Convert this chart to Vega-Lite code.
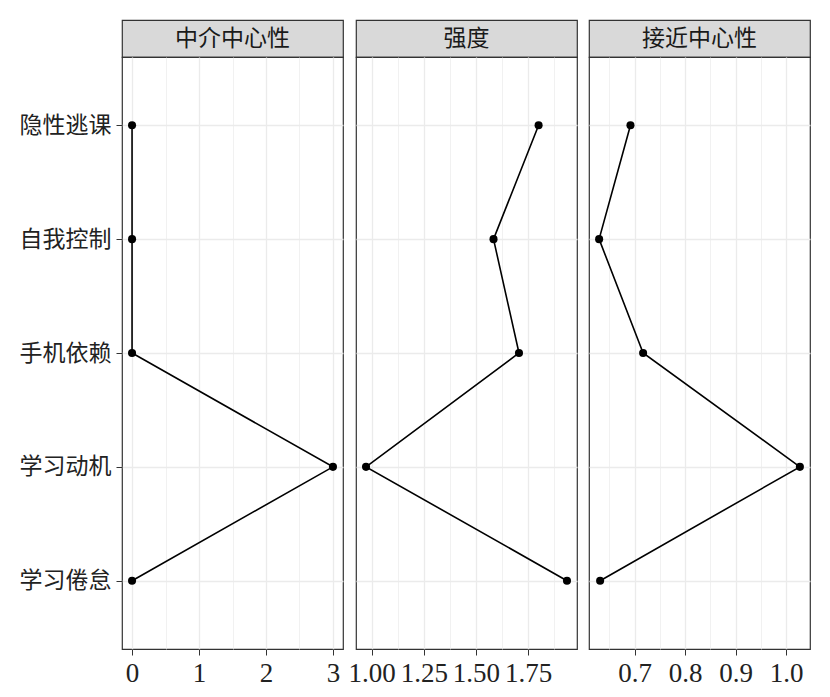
{
  "$schema": "https://vega.github.io/schema/vega-lite/v6.json",
  "background": "white",
  "padding": {"left": 18, "top": 19, "right": 5, "bottom": 5},
  "datasets": {
    "d": [
      {"metric": "中介中心性", "node": "隐性逃课", "value": 0, "idx": 1},
      {"metric": "中介中心性", "node": "自我控制", "value": 0, "idx": 2},
      {"metric": "中介中心性", "node": "手机依赖", "value": 0, "idx": 3},
      {"metric": "中介中心性", "node": "学习动机", "value": 3, "idx": 4},
      {"metric": "中介中心性", "node": "学习倦怠", "value": 0, "idx": 5},
      {"metric": "强度", "node": "隐性逃课", "value": 1.800, "idx": 1},
      {"metric": "强度", "node": "自我控制", "value": 1.584, "idx": 2},
      {"metric": "强度", "node": "手机依赖", "value": 1.706, "idx": 3},
      {"metric": "强度", "node": "学习动机", "value": 0.973, "idx": 4},
      {"metric": "强度", "node": "学习倦怠", "value": 1.936, "idx": 5},
      {"metric": "接近中心性", "node": "隐性逃课", "value": 0.692, "idx": 1},
      {"metric": "接近中心性", "node": "自我控制", "value": 0.630, "idx": 2},
      {"metric": "接近中心性", "node": "手机依赖", "value": 0.717, "idx": 3},
      {"metric": "接近中心性", "node": "学习动机", "value": 1.027, "idx": 4},
      {"metric": "接近中心性", "node": "学习倦怠", "value": 0.632, "idx": 5}
    ]
  },
  "config": {
    "view": {"stroke": "#333333", "strokeWidth": 1.2},
    "axis": {"domain": false, "gridColor": "#ebebeb", "tickColor": "#333333", "labelColor": "#222222", "title": null},
    "axisX": {"labelFont": "Liberation Serif", "labelFontSize": 27, "tickSize": 6, "labelPadding": 5, "labelFlush": false, "labelOverlap": false},
    "axisY": {"labelFont": "Noto Sans CJK SC", "labelFontSize": 23, "tickSize": 6, "labelPadding": 5}
  },
  "spacing": 3,
  "hconcat": [
    {
      "spacing": 0,
      "bounds": "flush",
      "vconcat": [
        {
          "width": 221, "height": 37,
          "data": {"values": [{"label": "中介中心性"}]},
          "view": {"fill": "#d9d9d9", "stroke": "#333333", "strokeWidth": 1.2},
          "mark": {"type": "text", "font": "Noto Sans CJK SC", "fontSize": 23, "color": "#1a1a1a", "baseline": "middle", "align": "center"},
          "encoding": {"text": {"field": "label"}}
        },
        {
          "width": 221, "height": 592,
          "data": {"name": "d"},
          "transform": [{"filter": "datum.metric == '中介中心性'"}],
          "encoding": {
            "x": {"field": "value", "type": "quantitative",
                  "scale": {"domain": [-0.15, 3.15], "nice": false, "zero": false},
                  "axis": {"values": [0, 0.5, 1, 1.5, 2, 2.5, 3],
                           "labelExpr": "datum.value % 1 == 0 ? format(datum.value, 'd') : ''",
                           "tickOpacity": {"condition": {"test": "datum.value % 1 == 0", "value": 1}, "value": 0},
                           "gridWidth": {"condition": {"test": "datum.value % 1 == 0", "value": 1.3}, "value": 0.7}}},
            "y": {"field": "node", "type": "ordinal",
                  "scale": {"type": "point", "padding": 0.6, "domain": ["隐性逃课", "自我控制", "手机依赖", "学习动机", "学习倦怠"]},
                  "axis": {"grid": true, "gridWidth": 1.3}}
          },
          "layer": [
            {"mark": {"type": "line", "color": "#000000", "strokeWidth": 1.6}, "encoding": {"order": {"field": "idx"}}},
            {"mark": {"type": "point", "filled": true, "color": "#000000", "opacity": 1, "size": 65}}
          ]
        }
      ]
    },
    {
      "spacing": 0,
      "bounds": "flush",
      "vconcat": [
        {
          "width": 221, "height": 37,
          "data": {"values": [{"label": "强度"}]},
          "view": {"fill": "#d9d9d9", "stroke": "#333333", "strokeWidth": 1.2},
          "mark": {"type": "text", "font": "Noto Sans CJK SC", "fontSize": 23, "color": "#1a1a1a", "baseline": "middle", "align": "center"},
          "encoding": {"text": {"field": "label"}}
        },
        {
          "width": 221, "height": 592,
          "data": {"name": "d"},
          "transform": [{"filter": "datum.metric == '强度'"}],
          "encoding": {
            "x": {"field": "value", "type": "quantitative",
                  "scale": {"domain": [0.925, 1.984], "nice": false, "zero": false},
                  "axis": {"values": [1, 1.125, 1.25, 1.375, 1.5, 1.625, 1.75, 1.875],
                           "labelExpr": "(datum.value * 4) % 1 == 0 ? format(datum.value, '.2f') : ''",
                           "tickOpacity": {"condition": {"test": "(datum.value * 4) % 1 == 0", "value": 1}, "value": 0},
                           "gridWidth": {"condition": {"test": "(datum.value * 4) % 1 == 0", "value": 1.3}, "value": 0.7}}},
            "y": {"field": "node", "type": "ordinal",
                  "scale": {"type": "point", "padding": 0.6, "domain": ["隐性逃课", "自我控制", "手机依赖", "学习动机", "学习倦怠"]},
                  "axis": {"grid": true, "gridWidth": 1.3, "labels": false, "ticks": false}}
          },
          "layer": [
            {"mark": {"type": "line", "color": "#000000", "strokeWidth": 1.6}, "encoding": {"order": {"field": "idx"}}},
            {"mark": {"type": "point", "filled": true, "color": "#000000", "opacity": 1, "size": 65}}
          ]
        }
      ]
    },
    {
      "spacing": 0,
      "bounds": "flush",
      "vconcat": [
        {
          "width": 221, "height": 37,
          "data": {"values": [{"label": "接近中心性"}]},
          "view": {"fill": "#d9d9d9", "stroke": "#333333", "strokeWidth": 1.2},
          "mark": {"type": "text", "font": "Noto Sans CJK SC", "fontSize": 23, "color": "#1a1a1a", "baseline": "middle", "align": "center"},
          "encoding": {"text": {"field": "label"}}
        },
        {
          "width": 221, "height": 592,
          "data": {"name": "d"},
          "transform": [{"filter": "datum.metric == '接近中心性'"}],
          "encoding": {
            "x": {"field": "value", "type": "quantitative",
                  "scale": {"domain": [0.610, 1.047], "nice": false, "zero": false},
                  "axis": {"values": [0.65, 0.7, 0.75, 0.8, 0.85, 0.9, 0.95, 1.0],
                           "labelExpr": "abs(datum.value * 10 - round(datum.value * 10)) < 0.01 ? format(datum.value, '.1f') : ''",
                           "tickOpacity": {"condition": {"test": "abs(datum.value * 10 - round(datum.value * 10)) < 0.01", "value": 1}, "value": 0},
                           "gridWidth": {"condition": {"test": "abs(datum.value * 10 - round(datum.value * 10)) < 0.01", "value": 1.3}, "value": 0.7}}},
            "y": {"field": "node", "type": "ordinal",
                  "scale": {"type": "point", "padding": 0.6, "domain": ["隐性逃课", "自我控制", "手机依赖", "学习动机", "学习倦怠"]},
                  "axis": {"grid": true, "gridWidth": 1.3, "labels": false, "ticks": true, "tickSize": 6, "tickColor": "rgba(0,0,0,0)"}}
          },
          "layer": [
            {"mark": {"type": "line", "color": "#000000", "strokeWidth": 1.6}, "encoding": {"order": {"field": "idx"}}},
            {"mark": {"type": "point", "filled": true, "color": "#000000", "opacity": 1, "size": 65}}
          ]
        }
      ]
    }
  ]
}
